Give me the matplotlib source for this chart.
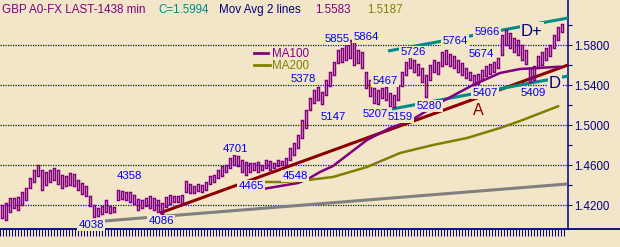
import numpy as np
import matplotlib
matplotlib.use('Agg')
import matplotlib.pyplot as plt
from matplotlib.lines import Line2D

plt.rcParams['font.family'] = ['Liberation Sans', 'DejaVu Sans']

# 价格数据 (单位: 1/10000 加 1, 4200 -> 1.4200), 每根K线的最高/最低
highs = [4200, 4220, 4270, 4270, 4280, 4330, 4370, 4470, 4550, 4600,
         4550, 4530, 4550, 4570, 4550, 4500, 4490, 4520, 4510, 4450,
         4420, 4390, 4290, 4200, 4170, 4190, 4250, 4190, 4180, 4350,
         4340, 4330, 4330, 4300, 4260, 4250, 4270, 4290, 4270, 4250,
         4220, 4280, 4300, 4290, 4290, 4300, 4440, 4410, 4390, 4410,
         4400, 4430, 4490, 4500, 4550, 4590, 4600, 4670, 4700, 4690,
         4650, 4630, 4620, 4620, 4630, 4600, 4650, 4640, 4620, 4650,
         4640, 4670, 4770, 4820, 4900, 5050, 5150, 5270, 5350, 5380,
         5330, 5450, 5530, 5630, 5750, 5770, 5810, 5850, 5830, 5750,
         5730, 5530, 5450, 5370, 5350, 5370, 5380, 5320, 5300, 5400,
         5530, 5630, 5690, 5650, 5610, 5570, 5500, 5600, 5650, 5630,
         5730, 5750, 5710, 5690, 5650, 5620, 5570, 5530, 5500, 5510,
         5550, 5590, 5610, 5630, 5670, 5900, 5950, 5920, 5870, 5850,
         5800, 5750, 5570, 5590, 5690, 5730, 5770, 5800, 5900, 5980,
         6010]
lows = [4070, 4050, 4130, 4170, 4150, 4200, 4250, 4370, 4430, 4490,
        4350, 4400, 4430, 4450, 4410, 4370, 4390, 4400, 4390, 4350,
        4310, 4290, 4190, 4080, 4090, 4110, 4130, 4120, 4130, 4250,
        4260, 4250, 4230, 4210, 4150, 4170, 4190, 4170, 4150, 4130,
        4110, 4180, 4210, 4230, 4230, 4220, 4330, 4320, 4320, 4340,
        4330, 4350, 4410, 4430, 4470, 4490, 4530, 4570, 4600, 4590,
        4530, 4500, 4530, 4550, 4530, 4550, 4570, 4550, 4570, 4590,
        4600, 4600, 4650, 4700, 4770, 4870, 4970, 5150, 5220, 5250,
        5210, 5300, 5390, 5500, 5620, 5630, 5650, 5670, 5600, 5620,
        5570, 5370, 5290, 5220, 5210, 5270, 5250, 5190, 5180, 5250,
        5390, 5500, 5570, 5530, 5500, 5430, 5280, 5450, 5530, 5510,
        5590, 5610, 5590, 5570, 5530, 5500, 5470, 5450, 5400, 5410,
        5450, 5490, 5510, 5530, 5570, 5700, 5800, 5770, 5730, 5700,
        5650, 5610, 5430, 5450, 5570, 5600, 5650, 5690, 5770, 5850,
        5930]

# 均线 (位置为K线序号)
ma100_x = [65.25, 74, 76.5, 79.5, 82.75, 87, 91.25, 97, 102, 110.25, 117.75, 124.5, 129.5, 139.5]
ma100_y = [4360, 4420, 4460, 4530, 4590, 4720, 4850, 4970, 5040, 5240, 5400, 5520, 5560, 5583]
ma200_x = [65.5, 70.25, 76.5, 82.75, 91.25, 99.5, 107.75, 116.25, 124.5, 129.5, 139]
ma200_y = [4430, 4430, 4450, 4480, 4580, 4720, 4800, 4870, 4970, 5040, 5187]

# 趋势线 (起点, 终点)
gray_x, gray_y = [25.5, 141.3], [4040, 4410]
red_x, red_y = [39.5, 141.5], [4120, 5600]
teal_lo_x, teal_lo_y = [97.5, 141.5], [5160, 5490]
teal_hi_x, teal_hi_y = [96.5, 141.5], [5740, 6070]

# 高低点标注
pt_text = ['4038', '4358', '4086', '4701', '4465', '4548', '5378', '5147', '5855', '5864',
           '5467', '5207', '5159', '5726', '5280', '5764', '5674', '5407', '5966', '5409']
pt_x = [22.25, 31.75, 39.75, 58.25, 62.25, 73.25, 75.25, 82.75, 83.75, 91,
        95.75, 93.25, 99.5, 102.75, 106.75, 113.25, 119.75, 120.75, 121.25, 132.75]
pt_y = [4000, 4490, 4040, 4760, 4390, 4490, 5460, 5080, 5860, 5880,
        5440, 5110, 5080, 5730, 5190, 5840, 5710, 5320, 5930, 5320]

bg = '#f3e5c7'
purple = '#800080'
olive = '#808000'
teal = '#008b8b'
maroon = '#8b0000'
navy = '#000080'
blue = '#0000ff'

def p(v):
    return 1 + np.array(v) / 10000.0

fig = plt.figure(figsize=(6.2, 2.47), dpi=100, facecolor=bg)
ax = fig.add_axes([0, 18/247, 568/620, 229/247], facecolor=bg)

x = np.arange(len(highs))
h = p(highs)
l = p(lows)
ax.bar(x, h - l, bottom=l, width=0.6, color='none', edgecolor=purple, linewidth=1.05, zorder=4)

ax.plot(gray_x, p(gray_y), color='#808080', lw=2.2, zorder=3, solid_capstyle='butt')
ax.plot(red_x, p(red_y), color=maroon, lw=2.2, zorder=3, solid_capstyle='butt')
ax.plot(teal_lo_x, p(teal_lo_y), color=teal, lw=2.2, zorder=3, solid_capstyle='butt')
ax.plot(teal_hi_x, p(teal_hi_y), color=teal, lw=2.2, zorder=3, solid_capstyle='butt')
ax.plot(ma100_x, p(ma100_y), color=purple, lw=1.8, zorder=3)
ax.plot(ma200_x, p(ma200_y), color=olive, lw=1.8, zorder=3)

box = dict(boxstyle='square,pad=0.08', fc=bg, ec='none')
for t, xx, yy in zip(pt_text, pt_x, p(pt_y)):
    ax.text(xx, yy, t, color=blue, fontsize=8.2, ha='center', va='center', bbox=box, zorder=6)
ax.text(119, 1.5150, 'A', color=maroon, fontsize=11.5, ha='center', va='center', zorder=6)
ax.text(132.5, 1.5940, 'D+', color=navy, fontsize=12, ha='center', va='center', bbox=box, zorder=6)
ax.text(138.25, 1.5420, 'D', color=navy, fontsize=12, ha='center', va='center', bbox=box, zorder=6)

# 图例
ax.plot([0.447, 0.472], [0.769, 0.769], color=purple, lw=2, transform=ax.transAxes)
ax.text(0.479, 0.764, 'MA100', color=purple, fontsize=8.4, va='center', transform=ax.transAxes)
ax.plot([0.447, 0.475], [0.716, 0.716], color=olive, lw=2, transform=ax.transAxes)
ax.text(0.479, 0.711, 'MA200', color=olive, fontsize=8.4, va='center', transform=ax.transAxes)

ax.set_xlim(-0.5, 141.5)
ax.set_ylim(1.3960, 1.6250)

ax.yaxis.tick_right()
ax.set_yticks([1.42, 1.46, 1.50, 1.54, 1.58])
ax.set_yticklabels(['%.4f' % v for v in [1.42, 1.46, 1.50, 1.54, 1.58]])
ax.set_yticks([1.44, 1.48, 1.52, 1.56, 1.60], minor=True)
ax.tick_params(axis='y', which='both', direction='out', length=3, width=0.8, color=navy,
               labelcolor=navy, labelsize=8.3, pad=1.5)
ax.grid(axis='y', which='major', color=blue, ls=(0, (1, 1)), lw=0.9, zorder=1)

ax.set_xticks(np.arange(-0.5, 140.8, 0.75))
ax.tick_params(axis='x', direction='out', length=5, width=0.75, color=navy, labelbottom=False)

for s in ['left', 'top']:
    ax.spines[s].set_visible(False)
ax.spines['right'].set_color(navy)
ax.spines['right'].set_linewidth(1.1)
ax.spines['bottom'].set_color(navy)
ax.spines['bottom'].set_linewidth(1.3)
fig.add_artist(Line2D([568/620, 1], [18/247, 18/247], color=navy, lw=1.3, transform=fig.transFigure))

# 标题行
ty = 1 - 10/247
fig.text(2/620, ty, 'GBP A0-FX LAST-1438 min', color=purple, fontsize=8.4, va='center')
fig.text(158/620, ty, 'C=1.5994', color=teal, fontsize=8.4, va='center')
fig.text(219/620, ty, 'Mov Avg 2 lines', color=navy, fontsize=8.4, va='center')
fig.text(315/620, ty, '1.5583', color=purple, fontsize=8.4, va='center')
fig.text(367/620, ty, '1.5187', color=olive, fontsize=8.4, va='center')

fig.savefig('out.png', dpi=100, facecolor=bg)
